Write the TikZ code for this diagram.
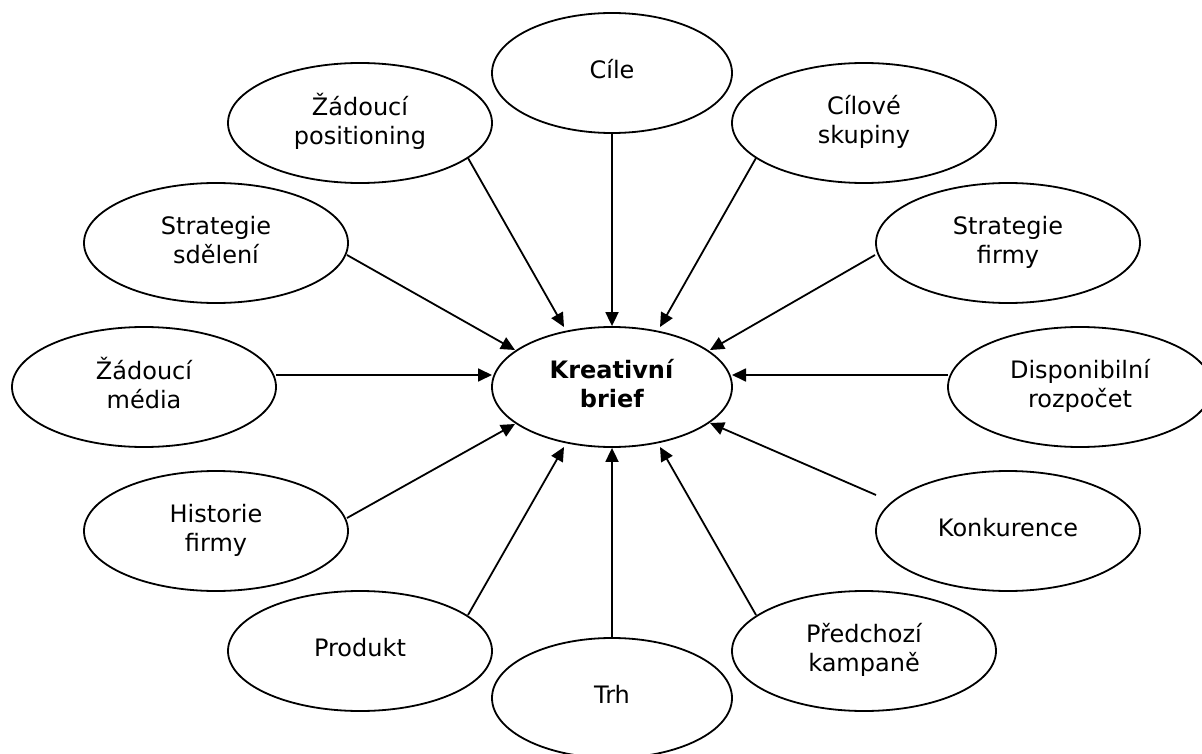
\documentclass[tikz,border=0pt]{standalone}
\usepackage{fontspec}
\setmainfont{DejaVu Sans}
\usetikzlibrary{shapes.geometric,arrows.meta}
\newcommand{\bubtext}[2][4pt]{\raisebox{#1}{\begin{tabular}{@{}c@{}}#2\end{tabular}}}
\begin{document}
\begin{tikzpicture}[x=1pt,y=-1pt,
  bub/.style={ellipse,draw=black,line width=1.8pt,minimum width=264pt,minimum height=120pt,inner sep=0pt,align=center,font=\fontsize{24}{29}\selectfont},
  narrow/.style={minimum width=240pt},
  conn/.style={line width=1.8pt,-{Triangle[length=14pt,width=13pt]}}]
\useasboundingbox (0,0) rectangle (1202,754);
\clip (0,0) rectangle (1202,754);
\node[bub,narrow] (kb) at (612,387) {\bubtext[5pt]{\textbf{Kreativní}\\\textbf{brief}}};
\node[bub,narrow] (cile) at (612,73) {\bubtext[3pt]{Cíle}};
\node[bub] (pos) at (360,123) {\bubtext{Žádoucí\\positioning}};
\node[bub] (cs) at (864,123) {\bubtext{Cílové\\skupiny}};
\node[bub] (sd) at (216,243) {\bubtext{Strategie\\sdělení}};
\node[bub] (sf) at (1008,243) {\bubtext{Strategie\\firmy}};
\node[bub] (med) at (144,387) {\bubtext{Žádoucí\\média}};
\node[bub] (roz) at (1080,387) {\bubtext[3pt]{Disponibilní\\rozpočet}};
\node[bub] (his) at (216,531) {\bubtext{Historie\\firmy}};
\node[bub] (kon) at (1008,531) {\bubtext[3pt]{Konkurence}};
\node[bub] (pro) at (360,651) {\bubtext[3pt]{Produkt}};
\node[bub] (pre) at (864,651) {\bubtext{Předchozí\\kampaně}};
\node[bub,narrow] (trh) at (612,698) {\bubtext[3pt]{Trh}};

\draw[conn] (cile.south) -- (kb.north);
\draw[conn] ([xshift=108pt,yshift=-35pt]pos.center) -- ([xshift=-48pt,yshift=60pt]kb.center);
\draw[conn] ([xshift=-108pt,yshift=-35pt]cs.center) -- ([xshift=48pt,yshift=60pt]kb.center);
\draw[conn] ([xshift=131pt,yshift=-12pt]sd.center) -- ([xshift=-97pt,yshift=37pt]kb.center);
\draw[conn] ([xshift=-133pt,yshift=-12pt]sf.center) -- ([xshift=98pt,yshift=37pt]kb.center);
\draw[conn] ([xshift=132pt,yshift=12pt]med.center) -- ([xshift=-120pt,yshift=12pt]kb.center);
\draw[conn] ([xshift=-132pt,yshift=12pt]roz.center) -- ([xshift=120pt,yshift=12pt]kb.center);
\draw[conn] ([xshift=131pt,yshift=13pt]his.center) -- ([xshift=-97pt,yshift=-37pt]kb.center);
\draw[conn] ([xshift=-132pt,yshift=36pt]kon.center) -- ([xshift=98pt,yshift=-36pt]kb.center);
\draw[conn] ([xshift=108pt,yshift=36pt]pro.center) -- ([xshift=-48pt,yshift=-60pt]kb.center);
\draw[conn] (trh.north) -- (kb.south);
\draw[conn] ([xshift=-108pt,yshift=36pt]pre.center) -- ([xshift=48pt,yshift=-60pt]kb.center);
\end{tikzpicture}
\end{document}
